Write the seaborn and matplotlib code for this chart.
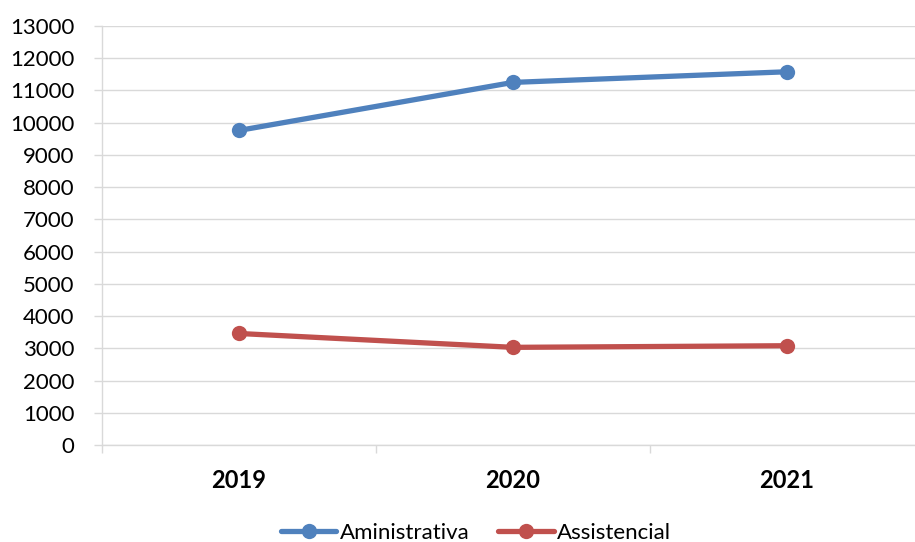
import matplotlib
matplotlib.use("Agg")
import matplotlib.pyplot as plt
import seaborn as sns
import pandas as pd
from matplotlib.ticker import FixedLocator

years = ["2019", "2020", "2021"]
aministrativa = [9760, 11250, 11580]
assistencial = [3460, 3030, 3080]
series_names = ["Aministrativa", "Assistencial"]
colors = ["#4F81BD", "#C0504D"]

df = pd.DataFrame({
    "ano": years * 2,
    "valor": aministrativa + assistencial,
    "serie": [series_names[0]] * 3 + [series_names[1]] * 3,
})

sns.set_theme(style="white")
plt.rcParams["font.family"] = ["Lato", "DejaVu Sans"]

fig = plt.figure(figsize=(9.15, 5.42), dpi=100)
ax = fig.add_axes([102 / 915, (542 - 445) / 542, 822 / 915, (445 - 26) / 542])

sns.lineplot(data=df, x="ano", y="valor", hue="serie", palette=colors,
             marker="o", markersize=11, markeredgewidth=0, linewidth=3.8,
             ax=ax, legend=False, sort=False)

ax.set_xlim(-0.5, 2.5)
ax.set_ylim(0, 13000)
ax.set_yticks(range(0, 13001, 1000))
ax.set_xticks(range(len(years)))
ax.set_xticklabels(years, fontweight="bold", fontsize=17)
ax.tick_params(axis="y", labelsize=16, length=6, color="#D9D9D9", width=1, direction="out", pad=14, left=True)
for lbl in ax.get_yticklabels():
    lbl.set_color("#000000")
ax.tick_params(axis="x", which="major", length=0, pad=17, labelcolor="#000000")
ax.xaxis.set_minor_locator(FixedLocator([-0.5, 0.5, 1.5, 2.5]))
ax.tick_params(axis="x", which="minor", length=6, color="#D9D9D9", width=1, direction="out", bottom=True)
ax.set_xlabel("")
ax.set_ylabel("")
ax.grid(axis="y", color="#D9D9D9", linewidth=1)
ax.grid(axis="x", visible=False)
for s in ["top", "right"]:
    ax.spines[s].set_visible(False)
for s in ["left", "bottom"]:
    ax.spines[s].set_color("#D9D9D9")
    ax.spines[s].set_linewidth(1)
ax.set_axisbelow(True)

handles = [plt.Line2D([], [], color=c, marker="o", markersize=11, markeredgewidth=0, linewidth=3.8)
           for c in colors]
fig.legend(handles, series_names, loc="center", bbox_to_anchor=(476 / 915, 9 / 542),
           ncol=2, frameon=False, fontsize=16, handlelength=2.5, handletextpad=0.15,
           columnspacing=1.3, labelcolor="#000000")

fig.savefig("out.png", dpi=100)
